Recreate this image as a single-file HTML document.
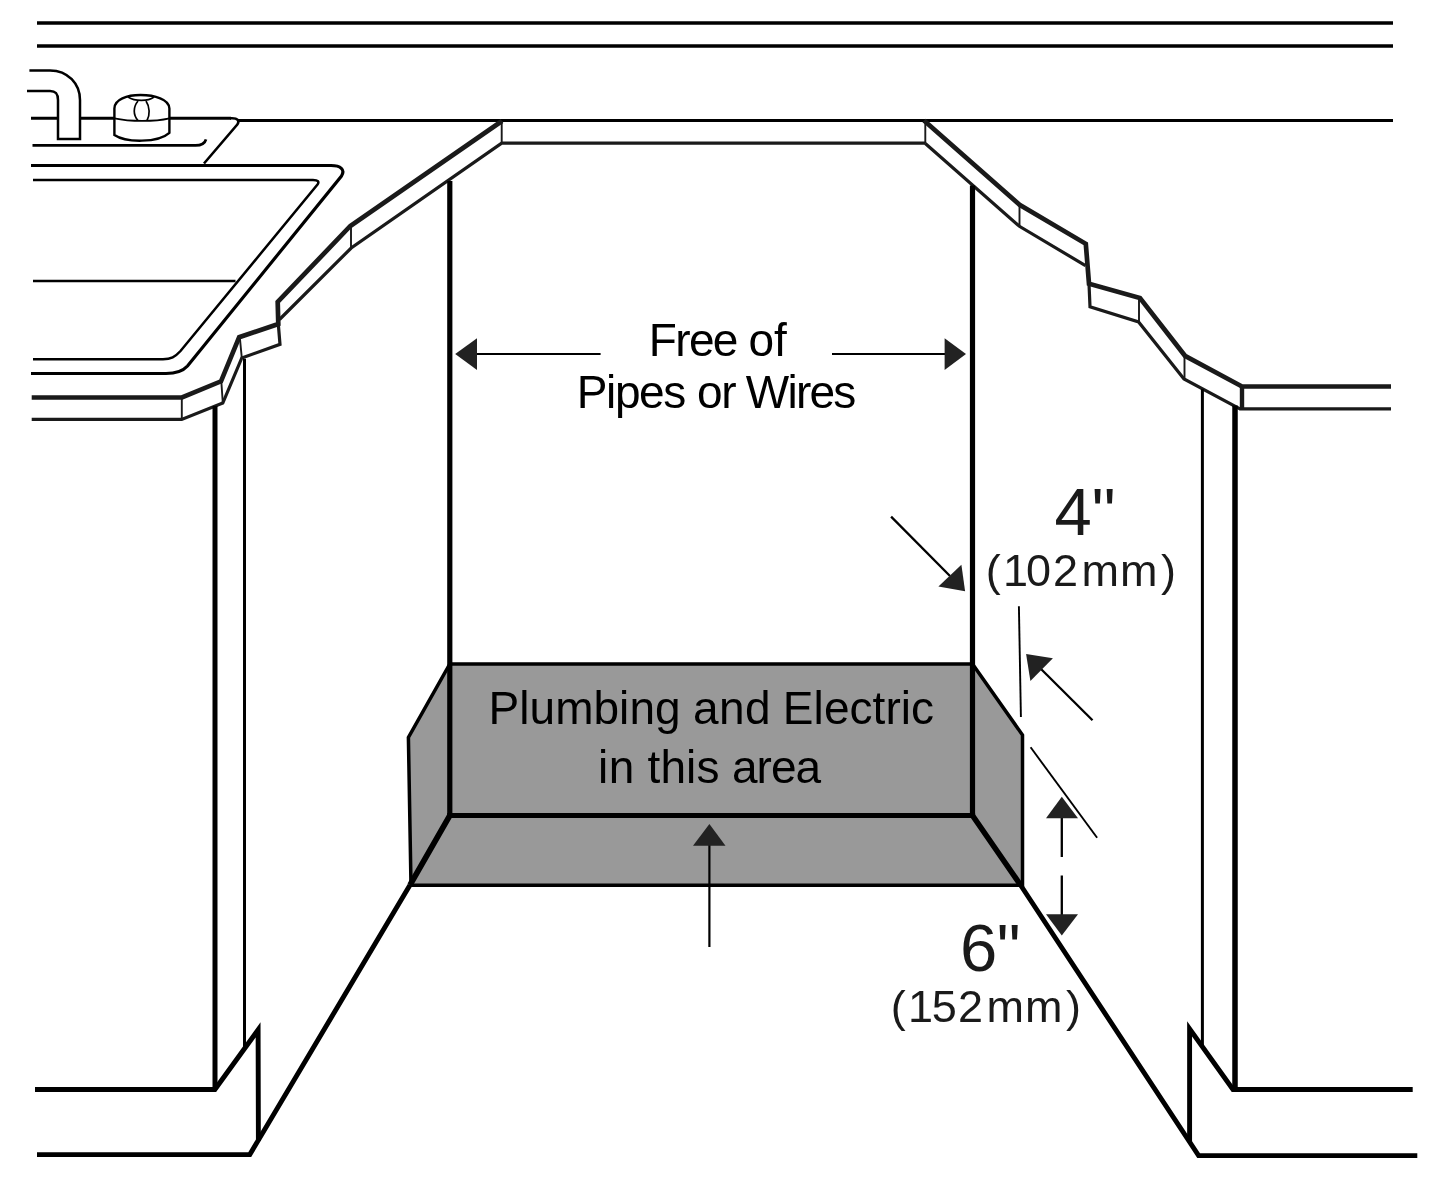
<!DOCTYPE html>
<html lang="en">
<head>
<meta charset="utf-8">
<title>Dishwasher opening - plumbing and electric clearance</title>
<style>
html,body{margin:0;padding:0;background:#fff;}
body{width:1445px;height:1183px;overflow:hidden;}
svg{display:block;will-change:transform;}
text{font-family:"Liberation Sans",Arial,Helvetica,sans-serif;}
.l{fill:none;stroke:#000;stroke-linejoin:miter;stroke-linecap:butt;}
.c{stroke:#1a1a1a;}
.ah{fill:#222;stroke:none}
</style>
</head>
<body>
<svg width="1445" height="1183" viewBox="0 0 1445 1183">
<rect width="1445" height="1183" fill="#fff"/>

<!-- wall / backsplash lines -->
<g id="wall" class="l" stroke-width="3.5">
<path d="M37,22.9H1393"/>
<path d="M37,45.9H1393"/>
<path d="M237,120.5H1393" stroke-width="3.2"/>
</g>

<!-- sink -->
<g id="sink" class="l">
<path stroke-width="2.5" d="M29.4,70.4H50C68,70.4 80,84 80,100V139H58V100C58,94 56,91 50,91H27"/>
<path stroke-width="2.9" d="M31,118.2H58M80,118.2H114M169.4,118.2H231"/>
<path stroke-width="2.6" d="M230,118.2H232C237.5,118.2 240,120.5 237.3,124.5L204,163.5"/>
<path stroke-width="2.7" d="M32.5,145.4H195.5C201,145.4 205,143 206,139.3"/>
<path stroke-width="2.4" d="M114.4,108.5C114.4,99.5 127,95 140.5,95C154.5,95 169.4,99.3 169.4,108.5V132.8C158,143 126,142.8 114.4,135Z"/>
<path stroke-width="1.7" d="M114.4,118.3C130,121.7 155,121.7 169.4,118.3"/>
<path stroke-width="1.7" d="M128,97C135,101.5 148,101.5 154,97"/>
<path stroke-width="1.7" d="M138,101C133,107 133,115 138,120.5M146,101C150,107 150,115 147,120.5"/>
<path stroke-width="3.2" d="M31,165.5H331C340.5,165.5 345.5,169.5 341.5,176L187.5,366C183,371 176,373.5 166,373.5H31"/>
<path stroke-width="2.5" d="M33,179.9H313C318,179.9 319.5,181.5 317.5,184.5L180.5,351C175,357 171,359.2 163,359.2H33"/>
<path stroke-width="2.5" d="M33,281H235.5"/>
</g>

<!-- countertop left -->
<g id="counter-left" class="l c">
<path stroke-width="4.7" d="M31.7,397.5H182L221,381.3L239.2,337.2L278.3,324L277.7,302L350.3,226L502,121"/>
<path stroke-width="3.2" d="M31.7,419.4H181.7L222.8,403L241.8,358L280,344.3L278.3,324"/>
<path stroke-width="3.2" d="M279.5,319.5L351.2,248L501.7,143.1H925.3"/>
<path stroke-width="1.9" d="M181.8,397.5V419.4M221.3,381.3L222.8,403M239.8,337.2L241.8,358M351,226V248M501.7,121V143.1"/>
</g>

<!-- countertop right -->
<g id="counter-right" class="l c">
<path stroke-width="4.7" d="M924,120.4L1019.6,204.8L1085.8,243.8L1089,283.8L1140,298L1185,355.8L1242,386.5H1391"/>
<path stroke-width="3.2" d="M925.3,143.5L1019.4,226.3L1085.5,265.6"/>
<path stroke-width="3.2" d="M1089,283.8L1090,306.8L1138.6,321.9L1184,379L1240,408.8H1391"/>
<path stroke-width="1.9" d="M925.3,121V143.5M1019.5,205V226.3M1139,298V322M1184.5,356V379"/>
<path stroke-width="4.4" d="M1242,386.4V408.6"/>
</g>

<!-- cabinets -->
<g id="cabinets" class="l">
<path stroke-width="5.0" d="M215,406V1089.4"/>
<path stroke-width="3.0" d="M244.5,358.8V1049"/>
<path stroke-width="4.9" d="M35,1089.5H214.9L258.1,1029.8L258.4,1141"/>
<path stroke-width="4.9" d="M37,1154.6H249.8L410,885"/>
<path stroke-width="5.5" d="M1235,405.6V1089.4"/>
<path stroke-width="3.0" d="M1202.4,389V1047"/>
<path stroke-width="4.9" d="M1412.7,1089.5H1233L1189.6,1028.9V1142"/>
<path stroke-width="4.9" d="M1417.3,1155.6H1198.6L1020.5,885"/>
</g>

<!-- plumbing area -->
<g id="area">
<path d="M408.4,737.4L449.8,664H972.5L1022.5,735V885.3H411Z" fill="#999"/>
<path class="l" stroke-width="3.5" d="M449.8,663.9H972.5L1022.5,735V885.3H411L408.4,737.4Z"/>
<path class="l" stroke-width="5.2" d="M449.8,181V815.5M972.5,185.5V815.5"/>
<path class="l" stroke-width="4.8" d="M447.2,815.5H975.1"/>
<path class="l" stroke-width="5.6" d="M449.8,815.5L410,885M972.5,815.5L1020.5,885"/>
</g>

<!-- dimension arrows -->
<g id="arrows">
<path class="l" stroke-width="2.2" d="M476,354H600.6M832,354H946"/>
<path class="ah" d="M455.2,354L477,338.3V370Z"/>
<path class="ah" d="M966,354L944.6,338.3V370Z"/>
<path class="l" stroke-width="2.2" d="M709.4,845V947"/>
<path class="ah" d="M709.4,824L693,845.8H725.5Z"/>
<path class="l" stroke-width="2.3" d="M891.1,516.6L950,576"/>
<path class="ah" d="M965.1,591.3L938.4,586.6L961.4,564.7Z"/>
<path class="l" stroke-width="1.9" d="M1018.9,606.3L1020.9,716.9"/>
<path class="l" stroke-width="2.3" d="M1092.5,720.3L1040,668"/>
<path class="ah" d="M1026.1,654.1L1052.9,658.3L1030.4,681.1Z"/>
<path class="l" stroke-width="1.9" d="M1030.6,747.3L1097.1,837.8"/>
<path class="l" stroke-width="2.3" d="M1061.8,818V857M1061.8,875.6V915"/>
<path class="ah" d="M1061.8,796.7L1046,818.3H1078Z"/>
<path class="ah" d="M1061.8,935.4L1046,914.3H1078Z"/>
</g>

<!-- labels -->
<g id="labels">
<text font-size="46.0" fill="#000" x="648.8 675.2 688.9 712.8 737.0 748.5 773.9" y="356.2">Free of</text>
<text font-size="46.0" fill="#000" x="576.8 606.1 614.9 639.1 663.3 685.4 697.0 721.3 734.6 745.8 787.4 795.9 809.4 833.3" y="408.0">Pipes or Wires</text>
<text font-size="46.0" fill="#000" x="488.6 519.3 529.6 555.2 593.5 619.1 629.4 655.0 679.9 692.9 719.0 745.0 770.7 782.8 813.6 823.9 849.5 872.6 885.4 900.8 911.1" y="723.8">Plumbing and Electric</text>
<text font-size="46.0" fill="#000" x="597.9 608.7 633.4 647.6 660.4 686.1 696.4 719.4 731.9 756.6 771.0 795.6" y="782.9">in this area</text>
<text font-size="67.0" fill="#1a1a1a" x="1054.6 1091.7" y="534.5">4&quot;</text>
<text font-size="45.0" fill="#1a1a1a" x="985.7 1003.1 1026.0 1052.9 1081.6 1120.1 1161.0" y="586.4">(102mm)</text>
<text font-size="67.0" fill="#1a1a1a" x="959.9 996.7" y="971.2">6&quot;</text>
<text font-size="45.0" fill="#1a1a1a" x="890.7 907.9 931.7 957.9 986.6 1025.1 1066.0" y="1022.3">(152mm)</text>
</g>
</svg>
</body>
</html>
